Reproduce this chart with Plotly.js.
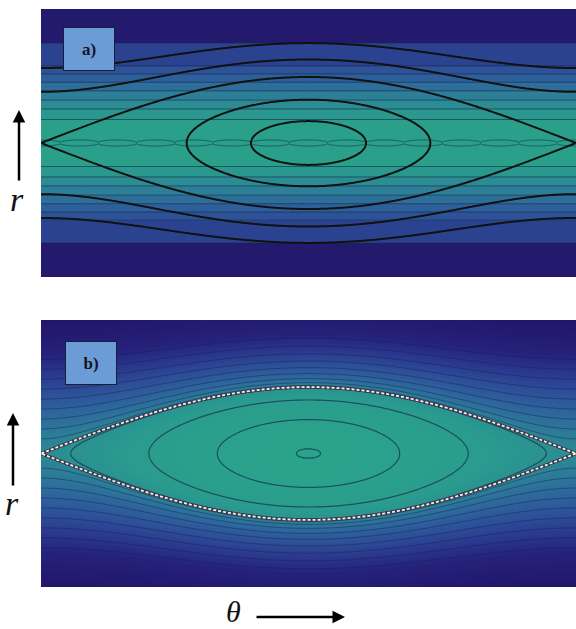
<!DOCTYPE html>
<html><head><meta charset="utf-8">
<script src="https://cdn.plot.ly/plotly-3.0.1.min.js"></script>
<style>html,body{margin:0;padding:0;background:#fff;} #chart{width:576px;height:629px;}</style>
</head><body><div id="chart"></div>
<script>
// ---------- Panel a: equilibrium bands (|r| in island half-widths) ----------
const bandEdgesA = [0.356, 0.515, 0.65, 0.79, 0.92, 1.045, 1.167, 1.515];
const bandColorsA = ['#2aa08b', '#2a988f', '#2b8c93', '#2c7f97', '#2d6f9a', '#2d609b', '#2d5298', '#2b4290', '#231a6d'];
// Panel a: black flux-surface levels of psi = r^2 - cos^2(theta/2)
const fluxLevelsA = [-0.89, -0.57, 0, 0.6, 1.29];
// Panel a: thin chain of small islands on the resonant surface
const chainAmpA = [0.045];
const chainModeA = [14];
const chainLevelA = [0.0001];
// ---------- Panel b: perturbed flux ----------
const innerLevelsB = [-0.995, -0.74, -0.35, -0.03];
const outerLevelsB = [0.22, 0.37, 0.52, 0.67, 0.82, 0.97, 1.12, 1.27, 1.42];
const separatrixLevelB = [0];
const colorStopsB = [[-1, '#2aa38b'], [-0.5, '#2a9b8e'], [0, '#2b8b93'], [0.3, '#2c7b98'], [0.6, '#2d669c'],
                     [0.9, '#2d5099'], [1.2, '#2a388d'], [1.5, '#25217a'], [2, '#22166b']];
const rangeTheta = [-Math.PI, Math.PI];
const rangeRA = [-2.03, 2.03];
const rangeRB = [-2.01, 2.01];
const panelLabels = ['a)', 'b)'];
const axisSymbols = ['r', 'θ'];

function grid(n, a, b) { const g = []; for (let i = 0; i < n; i++) g.push(a + (b - a) * i / (n - 1)); return g; }
function interpIdx(v, lv) { // piecewise-linear map of v onto level index 1..n
  const n = lv.length;
  if (n === 1) return v - lv[0] + 1;
  let k = 0;
  if (v <= lv[0]) k = 0; else if (v >= lv[n - 1]) k = n - 2; else { while (!(v >= lv[k] && v <= lv[k + 1])) k++; }
  return (k + 1) + (v - lv[k]) / (lv[k + 1] - lv[k]);
}
const psi = (t, r) => r * r - Math.pow(Math.cos(t / 2), 2);
const sroot = (p) => (p >= 0 ? 1 : -1) * Math.sqrt(Math.abs(p));

const TH = grid(401, rangeTheta[0], rangeTheta[1]);
const RA = grid(541, rangeRA[0], rangeRA[1]);
const RB = grid(361, rangeRB[0], rangeRB[1]);

const bandZ = RA.map(r => { const a = Math.abs(r); const k = bandEdgesA.filter(e => a > e).length; return [k, k]; });
const nb = bandColorsA.length;
const bandScale = [];
bandColorsA.forEach((c, k) => { bandScale.push([k / nb, c]); bandScale.push([(k + 1) / nb, c]); });

function contourTrace(xs, ys, zfun, nLev, color, width, xa, ya, dash) {
  const z = ys.map(r => xs.map(t => zfun(t, r)));
  return {type: 'contour', x: xs, y: ys, z: z, xaxis: xa, yaxis: ya, autocontour: false,
    contours: {coloring: 'none', start: 1, end: nLev, size: 1, showlabels: false},
    line: {color: color, width: width, smoothing: 1, dash: dash || 'solid'}, showscale: false, hoverinfo: 'skip'};
}

const traces = [];
traces.push({type: 'heatmap', x: [rangeTheta[0], rangeTheta[1]], y: RA, z: bandZ, zmin: -0.5, zmax: nb - 0.5,
  colorscale: bandScale, showscale: false, hoverinfo: 'skip', xaxis: 'x', yaxis: 'y'});
traces.push(contourTrace([rangeTheta[0], 0, rangeTheta[1]], RA, (t, r) => interpIdx(Math.abs(r), bandEdgesA), bandEdgesA.length,
  'rgba(20,40,75,0.6)', 1, 'x', 'y'));
const TH2 = grid(1601, rangeTheta[0], rangeTheta[1]);
const RC = grid(81, -0.1, 0.1);
traces.push(contourTrace(TH2, RC, (t, r) => interpIdx(r * r - Math.pow(chainAmpA[0] * Math.pow(Math.abs(Math.cos(chainModeA[0] * t / 2)), 0.4), 2), chainLevelA), 1,
  'rgba(25,70,90,0.75)', 1, 'x', 'y'));
traces.push(contourTrace(TH, RA, (t, r) => interpIdx(psi(t, r), fluxLevelsA), fluxLevelsA.length, '#111111', 2, 'x', 'y'));

const stopsMin = colorStopsB[0][0], stopsMax = colorStopsB[colorStopsB.length - 1][0];
const scaleB = colorStopsB.map(s => [(s[0] - stopsMin) / (stopsMax - stopsMin), s[1]]);
traces.push({type: 'heatmap', x: TH, y: RB, z: RB.map(r => TH.map(t => sroot(psi(t, r)))), zmin: stopsMin, zmax: stopsMax,
  colorscale: scaleB, zsmooth: 'best', showscale: false, hoverinfo: 'skip', xaxis: 'x2', yaxis: 'y2'});
traces.push(contourTrace(TH, RB, (t, r) => interpIdx(sroot(psi(t, r)), outerLevelsB), outerLevelsB.length,
  'rgba(22,32,78,0.45)', 1, 'x2', 'y2'));
traces.push(contourTrace(TH, RB, (t, r) => interpIdx(psi(t, r), innerLevelsB), innerLevelsB.length,
  '#1c4d60', 1.2, 'x2', 'y2'));
traces.push(contourTrace(TH, RB, (t, r) => interpIdx(psi(t, r), separatrixLevelB), 1, '#3a3a48', 3.5, 'x2', 'y2'));
traces.push(contourTrace(TH, RB, (t, r) => interpIdx(psi(t, r), separatrixLevelB), 1, '#f2eef2', 1.8, 'x2', 'y2', '3px,2px'));

const W = 576, H = 629;
const px = (x) => x / W, py = (y) => 1 - y / H;
const ax = {visible: false, range: rangeTheta, fixedrange: true};
const txt = (x, y, s, size, h) => ({xref: 'paper', yref: 'paper', x: px(x), y: py(y), xanchor: 'center', yanchor: 'middle',
  text: '<i>' + s + '</i>', showarrow: false, height: h, font: {family: 'Liberation Serif', size: size, color: '#111'}});
const box = (x, y, s) => ({xref: 'paper', yref: 'paper', x: px(x), y: py(y), xanchor: 'center', yanchor: 'middle',
  text: '<b>' + s + '</b>', showarrow: false, width: 50, height: 42, bgcolor: '#6b9cd5', bordercolor: '#16203a',
  borderwidth: 1, borderpad: 0, font: {family: 'Liberation Serif', size: 17, color: '#141428'}});
const arrow = (x, y, dx, dy) => ({xref: 'paper', yref: 'paper', x: px(x), y: py(y), ax: dx, ay: dy, text: '', showarrow: true,
  arrowhead: 2, arrowsize: 1, arrowwidth: 2.5, arrowcolor: '#000', standoff: 0, startstandoff: 0});
const layout = {
  width: W, height: H, margin: {l: 0, r: 0, t: 0, b: 0}, paper_bgcolor: '#ffffff', plot_bgcolor: '#ffffff', showlegend: false,
  xaxis: Object.assign({}, ax, {domain: [px(41), 1], anchor: 'y'}),
  yaxis: {visible: false, range: rangeRA, domain: [py(277), py(9)], anchor: 'x', fixedrange: true},
  xaxis2: Object.assign({}, ax, {domain: [px(41), 1], anchor: 'y2'}),
  yaxis2: {visible: false, range: rangeRB, domain: [py(587), py(320)], anchor: 'x2', fixedrange: true},
  annotations: [
    box(89, 49, panelLabels[0]), box(90.5, 362.5, panelLabels[1]),
    arrow(19, 110, 0, 72), arrow(13, 413, 0, 74), arrow(345, 617, -90, 0),
    txt(17, 199, axisSymbols[0], 34), txt(12, 503, axisSymbols[0], 34), txt(233, 611, axisSymbols[1], 30, 34)
  ]
};
Plotly.newPlot('chart', traces, layout, {staticPlot: true, displayModeBar: false});
</script></body></html>
